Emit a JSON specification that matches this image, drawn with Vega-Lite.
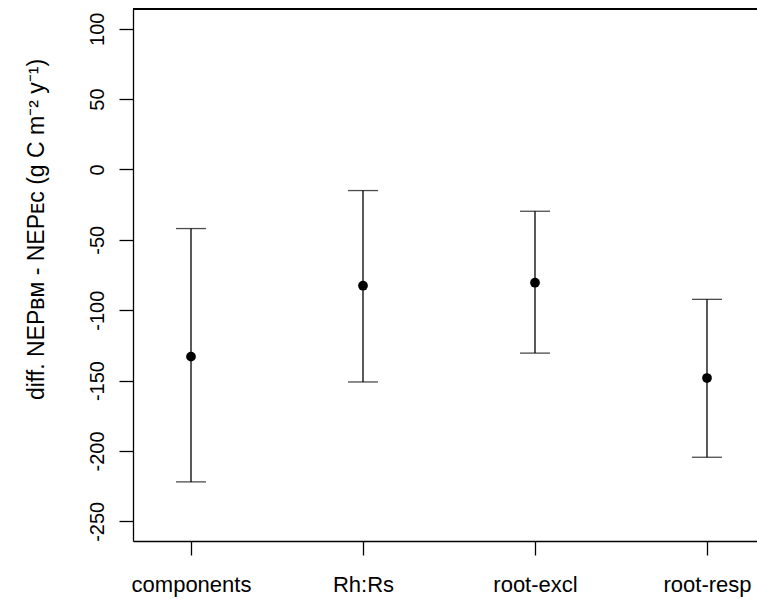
{
  "$schema": "https://vega.github.io/schema/vega-lite/v6.json",
  "width": 624,
  "height": 532,
  "autosize": {"type": "none"},
  "padding": {"left": 133, "top": 9, "right": 0, "bottom": 58},
  "background": "white",
  "config": {
    "view": {"stroke": null},
    "font": "Liberation Sans",
    "axis": {
      "domainColor": "black",
      "domainWidth": 1.3,
      "tickColor": "black",
      "tickWidth": 1.3,
      "tickSize": 14,
      "grid": false,
      "labelColor": "black",
      "labelFont": "Liberation Sans",
      "labelFontSize": 20,
      "titleColor": "black",
      "titleFont": "Liberation Sans",
      "titleFontSize": 23,
      "titleFontWeight": "normal"
    }
  },
  "data": {
    "values": [
      {"method": "components", "mean": -133, "lo": -222, "hi": -42},
      {"method": "Rh:Rs", "mean": -82.6, "lo": -151, "hi": -15},
      {"method": "root-excl", "mean": -80.5, "lo": -130.5, "hi": -29.7},
      {"method": "root-resp", "mean": -148.2, "lo": -204.5, "hi": -92.3}
    ]
  },
  "encoding": {
    "x": {
      "field": "method",
      "type": "nominal",
      "sort": null,
      "scale": {"type": "point", "padding": 0.314, "align": 0.537},
      "axis": {
        "title": null,
        "labelAngle": 0,
        "labelFontSize": 22,
        "labelBaseline": "alphabetic",
        "labelPadding": 36
      }
    }
  },
  "layer": [
    {
      "mark": {"type": "rule", "color": "black", "strokeWidth": 1.3},
      "encoding": {"x": null, "y": {"datum": 114, "type": "quantitative"}}
    },
    {
      "mark": {"type": "rule", "color": "black", "strokeWidth": 1.3},
      "encoding": {
        "y": {
          "field": "lo",
          "type": "quantitative",
          "scale": {"domain": [-264, 114], "nice": false, "zero": false},
          "axis": {
            "values": [-250, -200, -150, -100, -50, 0, 50, 100],
            "labelExpr": "replace(datum.label, '−', '-')",
            "labelAngle": -90,
            "labelAlign": "center",
            "labelBaseline": "alphabetic",
            "labelPadding": 16,
            "title": "diff. NEPʙᴍ - NEPᴇᴄ (g C m⁻² y⁻¹)",
            "titleAngle": -90,
            "titleAlign": "center",
            "titleBaseline": "alphabetic",
            "titleX": -90,
            "titleY": 220
          }
        },
        "y2": {"field": "hi"}
      }
    },
    {
      "mark": {"type": "tick", "color": "black", "thickness": 1.3, "size": 30},
      "encoding": {"y": {"field": "lo", "type": "quantitative"}}
    },
    {
      "mark": {"type": "tick", "color": "black", "thickness": 1.3, "size": 30},
      "encoding": {"y": {"field": "hi", "type": "quantitative"}}
    },
    {
      "mark": {"type": "point", "filled": true, "color": "black", "opacity": 1, "size": 95, "shape": "circle"},
      "encoding": {"y": {"field": "mean", "type": "quantitative"}}
    }
  ]
}
